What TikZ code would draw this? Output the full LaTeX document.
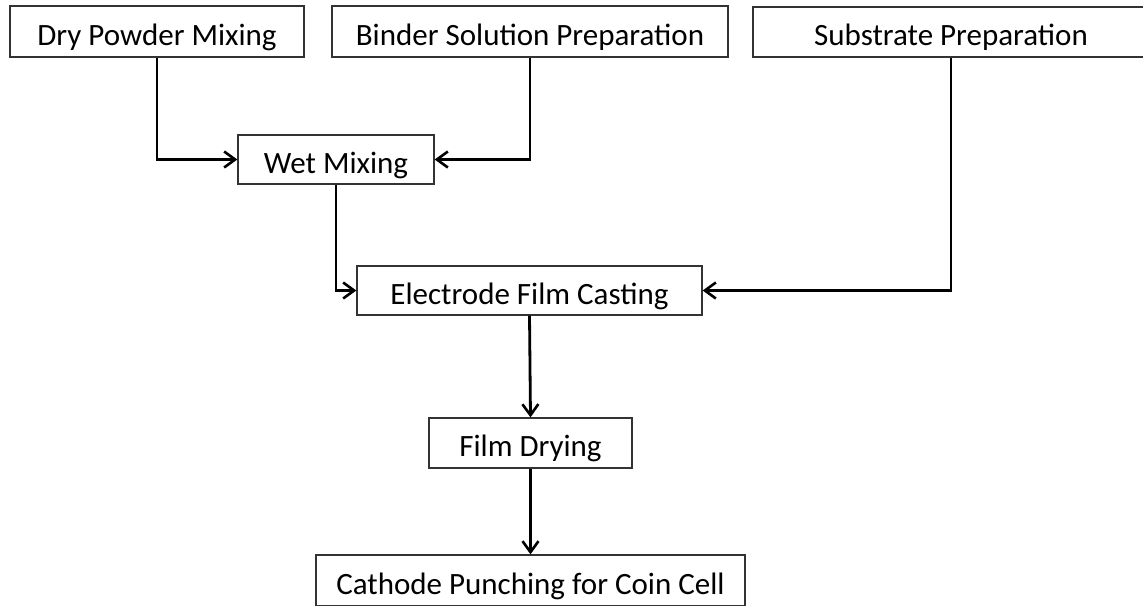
\documentclass[tikz,border=0pt]{standalone}
\usepackage{fontspec}
\setmainfont{Carlito}
\usetikzlibrary{arrows.meta}

\tikzset{
  stepbox/.style={draw=black!80, line width=1.3pt, rectangle, inner sep=0pt,
    text height=27pt, text depth=0pt, font=\fontsize{31}{37}\selectfont},
  flow/.style={draw=black, line width=2.8pt,
    -{Straight Barb[length=11pt,width=16pt,line width=2.6pt]}},
}

\begin{document}
\begin{tikzpicture}[x=1pt,y=-1pt]
  \clip (0,0) rectangle (1143,605);
  \fill[white] (0,0) rectangle (1143,605);

  % top row of preparation steps
  \node[stepbox, minimum width=294pt, minimum height=51pt] (dry) at (157,31.5) {Dry Powder Mixing};
  \node[stepbox, minimum width=396pt, minimum height=51pt] (binder) at (530,31.5) {Binder Solution Preparation};
  \node[stepbox, minimum width=396pt, minimum height=50pt] (substrate) at (951,32) {Substrate Preparation};

  % processing chain
  \node[stepbox, minimum width=196pt, minimum height=49pt] (wet) at (336,159.5) {Wet Mixing};
  \node[stepbox, minimum width=345pt, minimum height=49pt] (cast) at (529.5,290.5) {Electrode Film Casting};
  \node[stepbox, minimum width=203pt, minimum height=50pt] (dryfilm) at (530.5,443) {Film Drying};
  \node[stepbox, minimum width=429pt, minimum height=51pt] (punch) at (530.5,580.5) {Cathode Punching for Coin Cell};

  % connectors
  \draw[flow] (dry.south) |- (wet.west);
  \draw[flow] (binder.south) |- (wet.east);
  \draw[flow] (wet.south) |- (cast.west);
  \draw[flow] (substrate.south) |- (cast.east);
  \draw[flow] (cast.south) -- (dryfilm.north);
  \draw[flow] (dryfilm.south) -- (punch.north);
\end{tikzpicture}
\end{document}
